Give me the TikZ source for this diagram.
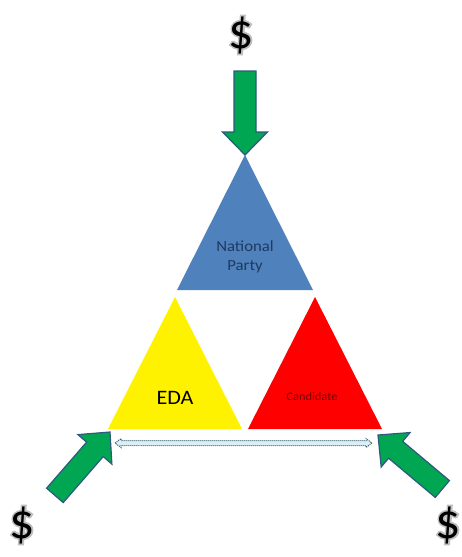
\documentclass[tikz,border=0pt]{standalone}
\usepackage{fontspec}
\setmainfont{Carlito}
\newfontfamily\glowfont[FakeBold=7]{Carlito}

\definecolor{partyblue}{HTML}{4F81BD}
\definecolor{partytext}{HTML}{1F3A60}
\definecolor{candtext}{HTML}{7A0000}
\definecolor{cashgreen}{HTML}{00A651}
\definecolor{cashedge}{HTML}{2E5A7E}
\definecolor{linkfill}{HTML}{DAEEF3}
\definecolor{linkedge}{HTML}{355F70}

\tikzset{cash/.style = {fill=cashgreen, draw=cashedge, line width=1.2pt, line join=miter},
         dollar/.style = {font=\fontsize{50}{50}\selectfont, inner sep=0pt},
         glow/.style = {font=\glowfont\fontsize{50}{50}\selectfont, inner sep=0pt, text=black!25},
         label/.style = {align=center, inner sep=0pt, xscale=1.08},
         cash arrow/.pic = {\draw[cash] (-84,-11) -- (-23,-11) -- (-23,-22.5) -- (0,0)
                                       -- (-23,22.5) -- (-23,11) -- (-84,11) -- cycle;}
        }

\begin{document}
\begin{tikzpicture}[x=1pt, y=-1pt]
  \useasboundingbox (0,0) rectangle (462,557);
  % corners of the three triangles
  \coordinate (np-top) at (245,155);
  \coordinate (np-left) at (177,290);
  \coordinate (np-right) at (313,290);
  \coordinate (eda-top) at (175,297);
  \coordinate (eda-left) at (108,429);
  \coordinate (eda-right) at (242,429);
  \coordinate (cand-top) at (315,297);
  \coordinate (cand-left) at (248,429);
  \coordinate (cand-right) at (382,429);

  \fill[partyblue] (np-top) -- (np-left) -- (np-right) -- cycle;
  \fill[yellow] (eda-top) -- (eda-left) -- (eda-right) -- cycle;
  \fill[red] (cand-top) -- (cand-left) -- (cand-right) -- cycle;

  \node[label, text=partytext, font=\fontsize{15.5}{19}\selectfont] (np) at (245,257) {National\\Party};
  \node[label, font=\fontsize{20.5}{24}\selectfont] (eda) at (175,398) {EDA};
  \node[label, text=candtext, font=\fontsize{11.5}{14}\selectfont] (cand) at (312,397) {Candidate};

  % link between EDA and candidate
  \draw[fill=linkfill, draw=linkedge, densely dotted, line width=1pt]
    (115,443) -- (121,438.5) -- (121,440.5) -- (366,440.5) -- (366,438.5) -- (372,443)
    -- (366,447.5) -- (366,445.5) -- (121,445.5) -- (121,447.5) -- cycle;

  % money flowing in
  \pic[rotate=-90] at (np-top) {cash arrow};
  \pic[rotate=49] at (110,432) {cash arrow};
  \pic[rotate=140] at (378,435) {cash arrow};

  \foreach \x/\y/\n in {241/35/top, 22/525/left, 448/525/right} {
    \node[glow] at (\x,\y) {\$};
    \node[dollar] (dol-\n) at (\x,\y) {\$};
  }
\end{tikzpicture}
\end{document}
